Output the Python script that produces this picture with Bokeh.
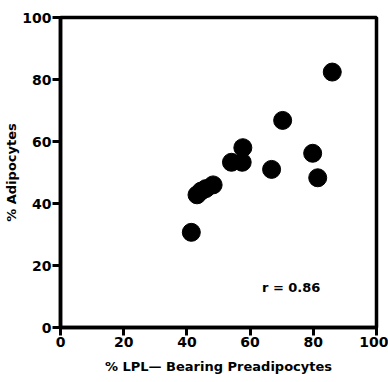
from bokeh.plotting import figure
from bokeh.models import Range1d, FixedTicker, Label
from bokeh.embed import file_html
from bokeh.resources import INLINE

x_lpl = [86.0, 70.3, 57.7, 79.8, 81.4, 66.8, 54.1, 57.5, 48.3, 46.0, 44.5, 43.2, 41.4]
y_adipo = [82.4, 66.8, 58.0, 56.2, 48.3, 51.0, 53.3, 53.3, 46.0, 44.8, 44.0, 42.8, 30.7]
ticks = [0, 20, 40, 60, 80, 100]
r_text = "r = 0.86"

FONT = "DejaVu Sans"

p = figure(width=388, height=382, output_backend="svg", toolbar_location=None,
           x_range=Range1d(0, 100), y_range=Range1d(0, 100),
           min_border_left=60, min_border_right=12, min_border_top=17, min_border_bottom=55)
p.grid.visible = False
p.background_fill_color = "white"
p.border_fill_color = "white"
p.outline_line_color = "black"
p.outline_line_width = 3.5

p.xaxis.ticker = FixedTicker(ticks=ticks)
p.yaxis.ticker = FixedTicker(ticks=ticks)
p.axis.axis_line_width = 3.5
p.axis.axis_line_color = "black"
p.axis.major_tick_line_color = "black"
p.axis.major_tick_line_width = 3
p.axis.major_tick_in = 0
p.axis.major_tick_out = 8
p.axis.minor_tick_line_color = None
p.axis.major_label_text_font = FONT
p.axis.major_label_text_font_style = "bold"
p.axis.major_label_text_font_size = "14px"
p.axis.major_label_text_color = "black"
p.axis.axis_label_text_font = FONT
p.axis.axis_label_text_font_style = "bold"
p.axis.axis_label_text_font_size = "13px"
p.axis.axis_label_text_color = "black"
p.axis.major_label_standoff = 1

p.xaxis.axis_label = "% LPL\u2014 Bearing Preadipocytes"
p.yaxis.axis_label = "% Adipocytes"
p.xaxis.axis_label_standoff = 9
p.yaxis.axis_label_standoff = 0

p.scatter(x_lpl, y_adipo, size=18, color="black", marker="circle")

p.add_layout(Label(x=73, y=13, text=r_text, text_font=FONT, text_font_style="bold",
                   text_font_size="13px", text_align="center", text_baseline="middle",
                   text_color="black"))

open("out.html", "w").write(file_html(p, INLINE))
